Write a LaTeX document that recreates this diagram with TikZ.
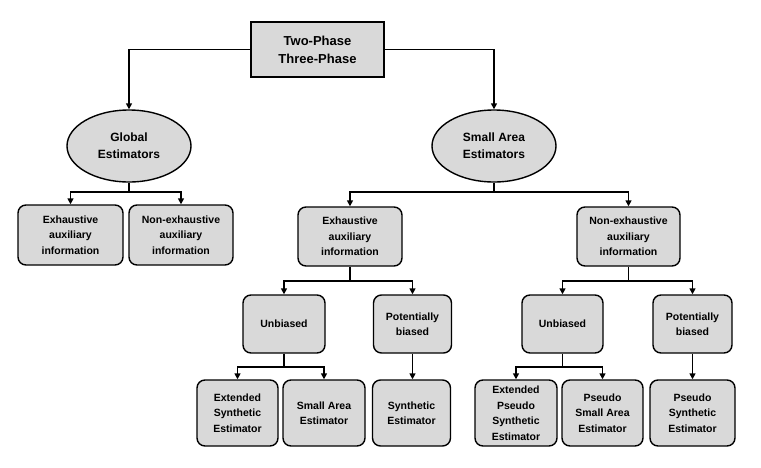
\documentclass[tikz,border=0pt]{standalone}
\usepackage{fontspec}
\setmainfont{Liberation Sans}
\usetikzlibrary{arrows.meta,shapes.geometric}
\definecolor{boxfill}{RGB}{217,217,217}
\begin{document}
\begin{tikzpicture}[x=1pt,y=-1pt,
  box/.style={draw=black,line width=1.4pt,fill=boxfill,rounded corners=8pt,align=center,
    font=\fontsize{10.5}{15.5}\selectfont\bfseries,inner sep=0pt},
  ell/.style={draw=black,line width=1.4pt,fill=boxfill,ellipse,align=center,inner sep=0pt,
    font=\fontsize{12}{17}\selectfont\bfseries,minimum width=124pt,minimum height=72pt},
  conn/.style={line width=1.9pt,draw=black},
  arr/.style={conn,-{Triangle[length=6pt,width=6pt]}}]
\useasboundingbox (0,0) rectangle (761,467);
% top
\node[draw=black,line width=1.4pt,fill=boxfill,align=center,inner sep=0pt,
  minimum width=133pt,minimum height=55pt,font=\fontsize{13}{18}\selectfont\bfseries]
  (top) at (317.5,49.5) {Two-Phase\\Three-Phase};
% level 1
\node[ell] (ge) at (129,146) {Global\\Estimators};
\node[ell] (se) at (494,146) {Small Area\\Estimators};
% level 2
\node[box,minimum width=105pt,minimum height=60pt] (lex) at (70.5,235) {Exhaustive\\auxiliary\\information};
\node[box,minimum width=104pt,minimum height=60pt] (lnex) at (181,235) {Non-exhaustive\\auxiliary\\information};
\node[box,minimum width=104pt,minimum height=59pt] (mex) at (350,236.5) {Exhaustive\\auxiliary\\information};
\node[box,minimum width=103pt,minimum height=59pt] (rnex) at (628.5,236.5) {Non-exhaustive\\auxiliary\\information};
% level 3
\node[box,minimum width=82pt,minimum height=58pt] (ub1) at (284,324) {Unbiased};
\node[box,minimum width=78pt,minimum height=58pt] (pb1) at (412.5,324) {Potentially\\biased};
\node[box,minimum width=81pt,minimum height=58pt] (ub2) at (562.5,324) {Unbiased};
\node[box,minimum width=79pt,minimum height=58pt] (pb2) at (692.5,324) {Potentially\\biased};
% level 4
\node[box,minimum width=81pt,minimum height=66pt] (ext) at (237.5,413) {Extended\\Synthetic\\Estimator};
\node[box,minimum width=82pt,minimum height=66pt] (sae) at (324,413) {Small Area\\Estimator};
\node[box,minimum width=78pt,minimum height=66pt] (syn) at (411.5,413) {Synthetic\\Estimator};
\node[box,minimum width=82pt,minimum height=66pt] (eps) at (516,413) {Extended\\Pseudo\\Synthetic\\Estimator};
\node[box,minimum width=81pt,minimum height=66pt] (psa) at (602.5,413) {Pseudo\\Small Area\\Estimator};
\node[box,minimum width=85pt,minimum height=66pt] (pse) at (692.5,413) {Pseudo\\Synthetic\\Estimator};
% connectors
\draw[arr] (top.west) -| (ge.north);
\draw[arr] (top.east) -| (se.north);
\coordinate (b1) at (129,192);
\draw[conn] (ge.south) -- (b1);
\draw[arr] (b1) -| (lex.north);
\draw[arr] (b1) -| (lnex.north);
\coordinate (b2) at (494,192);
\draw[conn] (se.south) -- (b2);
\draw[arr] (b2) -| (mex.north);
\draw[arr] (b2) -| (rnex.north);
\coordinate (b3) at (350,281);
\draw[conn] (mex.south) -- (b3);
\draw[arr] (b3) -| (ub1.north);
\draw[arr] (b3) -| (pb1.north);
\coordinate (b4) at (628.5,281);
\draw[conn] (rnex.south) -- (b4);
\draw[arr] (b4) -| (ub2.north);
\draw[arr] (b4) -| (pb2.north);
\coordinate (b5) at (284,367);
\draw[conn] (ub1.south) -- (b5);
\draw[arr] (b5) -| (ext.north);
\draw[arr] (b5) -| (sae.north);
\coordinate (b6) at (562.5,367);
\draw[conn] (ub2.south) -- (b6);
\draw[arr] (b6) -| (eps.north);
\draw[arr] (b6) -| (psa.north);
\draw[arr] (pb1.south) -- (pb1.south |- syn.north);
\draw[arr] (pb2.south) -- (pb2.south |- pse.north);
\end{tikzpicture}
\end{document}
